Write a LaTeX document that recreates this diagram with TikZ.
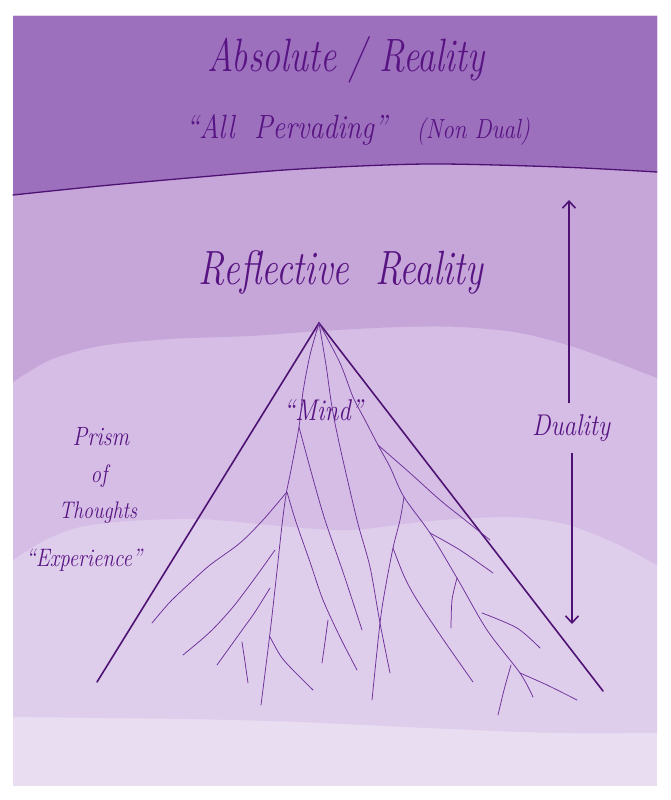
\documentclass[tikz,border=0pt]{standalone}
\usetikzlibrary{arrows.meta}
\definecolor{bandA}{RGB}{157,112,190}
\definecolor{bandB}{RGB}{198,166,217}
\definecolor{bandC}{RGB}{213,189,229}
\definecolor{bandD}{RGB}{223,205,236}
\definecolor{bandE}{RGB}{233,221,242}
\definecolor{ink}{RGB}{88,20,130}
\definecolor{edge}{RGB}{78,18,115}
\definecolor{vein}{RGB}{108,48,152}
\newcommand{\fs}[1]{\fontsize{#1}{#1}\selectfont}
\begin{document}
\begin{tikzpicture}[x=1pt,y=-1pt,
  txt/.style={text=ink, font=\itshape, inner sep=0pt},
  rim/.style={draw=edge, line width=1.6pt, line cap=round},
  veinline/.style={draw=vein, line width=0.75pt, line cap=round},
  dualarrow/.style={draw=edge, line width=1.6pt, -{Straight Barb[length=7pt,width=13pt]}}]
\useasboundingbox (0,0) rectangle (670,800);
\fill[white] (0,0) rectangle (670,800);
% bands, lightest first
\fill[bandE] (13,16) rectangle (657,786);
\fill[bandD] (657,16) -- (13,16) -- plot[smooth] coordinates {(13,717) (184,719) (299,722) (427,728) (556,733) (657,733)} -- cycle;
\fill[bandC] (657,16) -- (13,16) -- plot[smooth] coordinates {(13,560) (45,540) (80,527) (130,521) (200,519) (280,526) (350,530) (430,521) (510,517) (565,524) (615,543) (657,565)} -- cycle;
\fill[bandB] (657,16) -- (13,16) -- plot[smooth] coordinates {(13,382) (50,360) (100,346) (170,339) (250,336) (320,331) (400,327) (460,327) (520,333) (580,349) (657,378)} -- cycle;
\fill[bandA] (657,16) -- (13,16) -- plot[smooth] coordinates {(13,195) (100,186) (200,177) (300,169) (427,164) (560,167) (657,172)} -- cycle;
\draw[rim, line width=1.3pt] plot[smooth] coordinates {(13,195) (100,186) (200,177) (300,169) (427,164) (560,167) (657,172)};

% titles
\node[txt] (absolute) at (346,60) {\scalebox{1}[1.3]{\fs{36}Absolute / Reality}};
\node[txt] (pervading) at (358,130) {\scalebox{1}[1.2]{\fs{28}``All\ \ Pervading''\ \ \ \fs{23}(Non Dual)}};
\node[txt] (reflective) at (341,272) {\scalebox{1}[1.3]{\fs{37}Reflective\ \ Reality}};

% prism
\coordinate (apex) at (319,323);
\coordinate (lfoot) at (97,682);
\coordinate (rfoot) at (603,691);
\draw[rim, line join=miter] (lfoot) -- (apex) -- (rfoot);

% veins
\draw[veinline] plot[smooth] coordinates {(319,323) (310,355) (303,392) (299,427) (291,470) (286,495) (282,525) (276,580) (270,633) (261,705)};
\draw[veinline] plot[smooth] coordinates {(299,427) (312,475) (325,520) (344,575) (362,630)};
\draw[veinline] plot[smooth] coordinates {(287,492) (296,522) (310,562) (323,600) (340,637) (357,670)};
\draw[veinline] plot[smooth] coordinates {(286,493) (263,520) (240,543) (210,565) (190,583) (170,602) (152,623)};
\draw[veinline] plot[smooth] coordinates {(275,550) (255,578) (233,607) (210,632) (183,655)};
\draw[veinline] plot[smooth] coordinates {(270,588) (255,612) (240,633) (217,665)};
\draw[veinline] plot[smooth] coordinates {(242,642) (245,662) (248,683)};
\draw[veinline] plot[smooth] coordinates {(270,637) (280,655) (290,667) (313,690)};
\draw[veinline] plot[smooth] coordinates {(328,620) (325,642) (322,663)};
\draw[veinline] plot[smooth] coordinates {(319,323) (326,365) (332,407) (340,447) (357,520) (370,567) (380,623) (390,673)};
\draw[veinline] plot[smooth] coordinates {(319,323) (340,363) (353,397) (365,420) (378,445) (390,467) (404,497) (430,533) (457,578) (487,630) (520,673) (533,697)};
\draw[veinline] plot[smooth] coordinates {(378,445) (410,473) (440,500) (465,520) (490,540)};
\draw[veinline] plot[smooth] coordinates {(404,497) (400,520) (393,548) (385,590) (380,623) (372,700)};
\draw[veinline] plot[smooth] coordinates {(393,548) (404,576) (417,600) (445,642) (473,682)};
\draw[veinline] plot[smooth] coordinates {(430,533) (460,550) (493,573)};
\draw[veinline] plot[smooth] coordinates {(457,578) (452,600) (451,628)};
\draw[veinline] plot[smooth] coordinates {(482,613) (517,628) (540,648)};
\draw[veinline] plot[smooth] coordinates {(520,673) (547,685) (577,700)};
\draw[veinline] plot[smooth] coordinates {(511,665) (504,690) (498,715)};

\node[txt] (mind) at (323,410) {\scalebox{1}[1.2]{\fs{25}``Mind''}};

% left labels
\node[txt] (prism) at (101,437) {\scalebox{1}[1.2]{\fs{22}Prism}};
\node[txt] (of) at (99,476) {\scalebox{1}[1.2]{\fs{21}of}};
\node[txt] (thoughts) at (98,513) {\scalebox{1}[1.2]{\fs{20}Thoughts}};
\node[txt] (experience) at (84,560) {\scalebox{1}[1.2]{\fs{21}``Experience''}};

% duality arrow
\node[txt, minimum height=49pt] (duality) at (571,428) {\scalebox{1}[1.2]{\fs{25}Duality}};
\coordinate (dtop) at (569,200);
\coordinate (dbot) at (572,624);
\draw[dualarrow] (duality.north -| dtop) -- (dtop);
\draw[dualarrow] (duality.south -| dbot) -- (dbot);
\end{tikzpicture}
\end{document}
